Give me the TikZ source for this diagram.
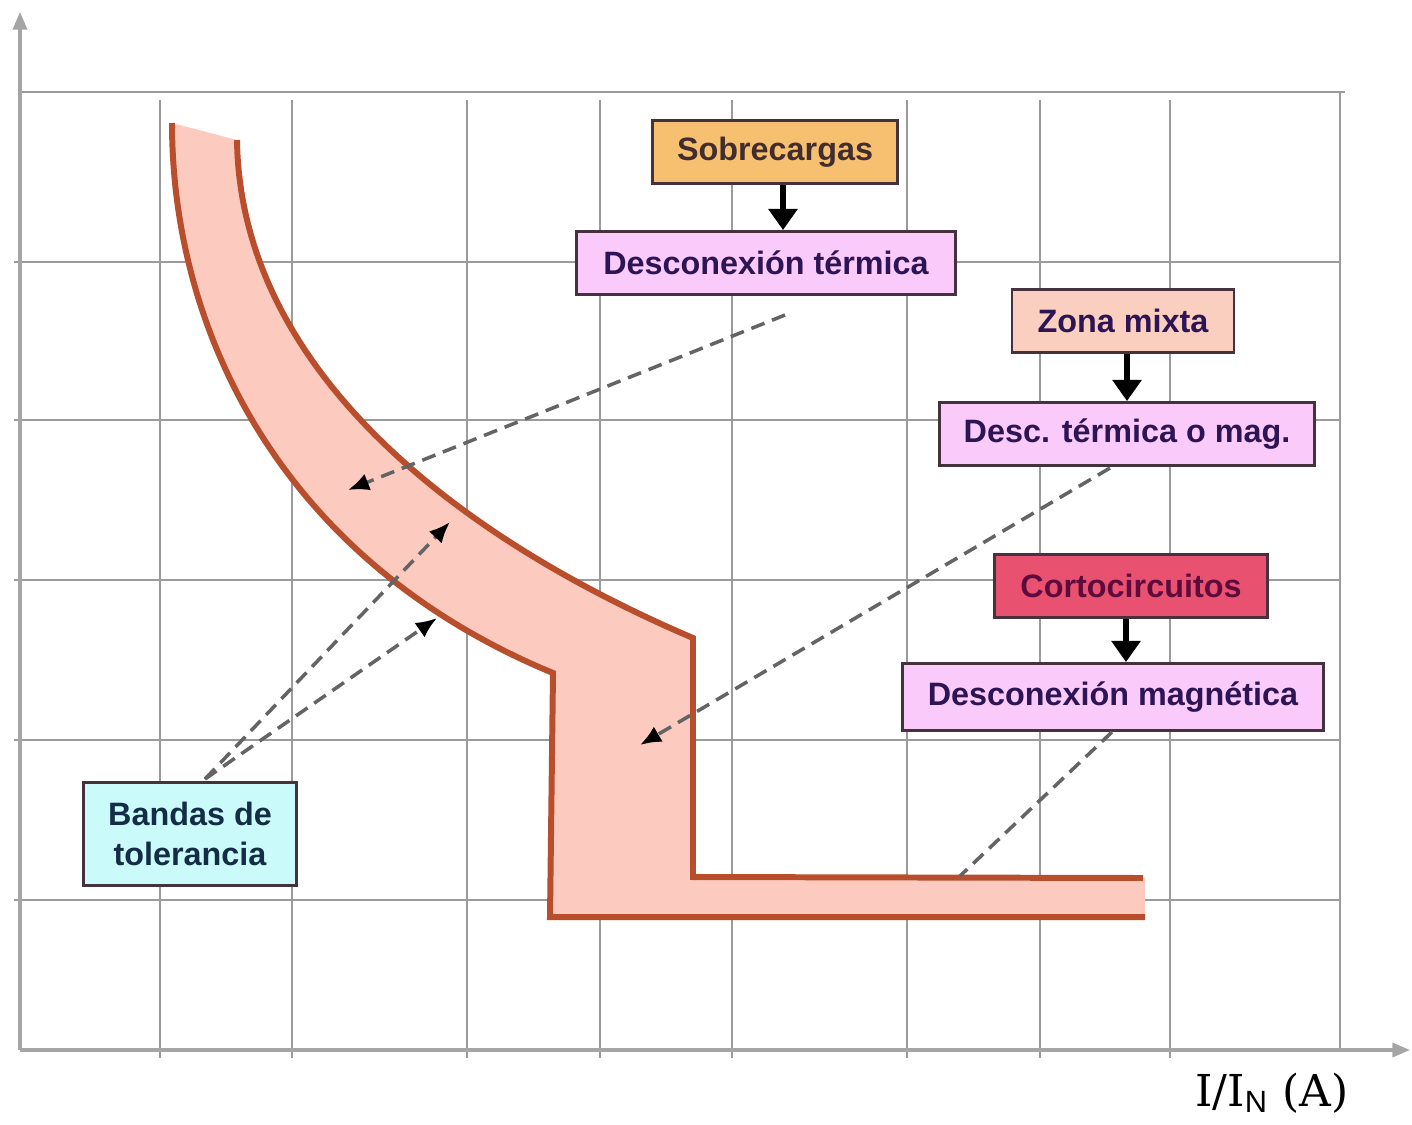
\documentclass[tikz,border=0pt]{standalone}
\usepackage{fontspec}
\setmainfont{Liberation Sans}
\newfontfamily\axisfont{DejaVu Serif}
\usetikzlibrary{arrows.meta}

\definecolor{gridgray}{RGB}{155,155,155}
\definecolor{axisgray}{RGB}{165,165,165}
\definecolor{dashgray}{RGB}{100,100,100}
\definecolor{boxedge}{RGB}{70,50,60}
\definecolor{bandfill}{RGB}{253,202,192}
\definecolor{bandedge}{RGB}{185,78,45}
\definecolor{orangebox}{RGB}{247,192,112}
\definecolor{lilacbox}{RGB}{250,202,250}
\definecolor{salmonbox}{RGB}{250,207,192}
\definecolor{redbox}{RGB}{232,82,112}
\definecolor{cyanbox}{RGB}{202,250,250}
\definecolor{inktext}{RGB}{45,20,85}
\definecolor{browntext}{RGB}{65,45,45}
\definecolor{wine}{RGB}{95,10,60}
\definecolor{navytext}{RGB}{20,45,70}

\begin{document}
\begin{tikzpicture}[x=0.01cm,y=-0.01cm,
    gridline/.style={draw=gridgray, line width=0.8pt},
    box/.style={draw=boxedge, line width=0.8pt, minimum height=0.63cm, inner sep=0pt,
        font=\fontsize{9.2}{11.4}\selectfont\bfseries},
    flow/.style={-{Triangle[width=8pt,length=6pt]}, line width=1.7pt},
    hint/.style={draw=dashgray, line width=1pt, dash pattern=on 4pt off 2.3pt,
        -{Latex[black,length=6pt,width=5pt]}},
    band/.style={draw=bandedge, line width=1.7pt}]
    \useasboundingbox (0,0) rectangle (1412,1124);

    % grid and axes
    \foreach \x in {160,292,467,600,732,907,1040,1170}
        \draw[gridline] (\x,100) -- (\x,1058);
    \foreach \y in {262,420,580,740,900}
        \draw[gridline] (14,\y) -- (1340,\y);
    \draw[gridline] (20,92) -- (1345,92);
    \draw[gridline] (1340,92) -- (1340,1050);
    \draw[draw=axisgray, line width=0.9pt, -{Triangle[width=4pt,length=5pt]}] (20,1050) -- (20,12);
    \draw[draw=axisgray, line width=0.9pt, -{Triangle[width=4pt,length=5pt]}] (20,1050) -- (1410,1050);
    \node (xlab) at (1272,1093) {\axisfont\fontsize{12.5}{14}\selectfont I/I$_{\mathrm{N}}$ (A)};

    % tolerance band
    \fill[bandfill] (172,123) .. controls (172,330) and (280,560) .. (553,673)
        -- (550,917) -- (1145,917) -- (1145,878) -- (693,878) -- (693,638)
        .. controls (440,530) and (240,360) .. (237,140) -- cycle;
    \draw[band] (172,123) .. controls (172,330) and (280,560) .. (553,673)
        -- (550,917) -- (1145,917);
    \draw[band] (237,140) .. controls (240,360) and (440,530) .. (693,638)
        -- (693,877) -- (1143,878);

    % labels
    \node[box, fill=orangebox, text=browntext, minimum width=2.45cm] (sob) at (775,152) {Sobrecargas};
    \node[box, fill=lilacbox, text=inktext, minimum width=3.78cm] (dterm) at (766,263) {Desconexión térmica};
    \node[box, fill=salmonbox, text=inktext, minimum width=2.22cm] (zona) at (1123,321) {Zona mixta};
    \node[box, fill=lilacbox, text=inktext, minimum width=3.75cm] (dmix) at (1127,434) {Desc. térmica o mag.};
    \node[box, fill=redbox, text=wine, minimum width=2.73cm] (corto) at (1131,586) {Cortocircuitos};
    \node[box, fill=lilacbox, text=inktext, minimum width=4.2cm, minimum height=0.67cm] (dmag) at (1113,697) {Desconexión magnética};
    \node[box, fill=cyanbox, text=navytext, minimum width=2.13cm, minimum height=1.03cm, align=center] (bandas) at (190,834) {Bandas de\\tolerancia};

    \draw[flow] ([xshift=0.08cm]sob.south) -- ([xshift=0.08cm]sob.south |- dterm.north);
    \draw[flow] ([xshift=0.04cm]zona.south) -- ([xshift=0.04cm]zona.south |- dmix.north);
    \draw[flow] ([xshift=-0.05cm]corto.south) -- ([xshift=-0.05cm]corto.south |- dmag.north);

    % pointers into the band
    \coordinate (p1) at (785,315);
    \coordinate (q1) at (348,490);
    \coordinate (p2) at (205,779);
    \coordinate (q2) at (450,522);
    \coordinate (q3) at (437,618);
    \coordinate (p4) at (1110,468);
    \coordinate (q4) at (640,745);
    \coordinate (p5) at (1112,732);
    \coordinate (q5) at (960,876);
    \draw[hint] (p1) -- (q1);
    \draw[hint] (p2) -- (q2);
    \draw[hint] (p2) -- (q3);
    \draw[hint] (p4) -- (q4);
    \draw[hint, -] (p5) -- (q5);
\end{tikzpicture}
\end{document}
